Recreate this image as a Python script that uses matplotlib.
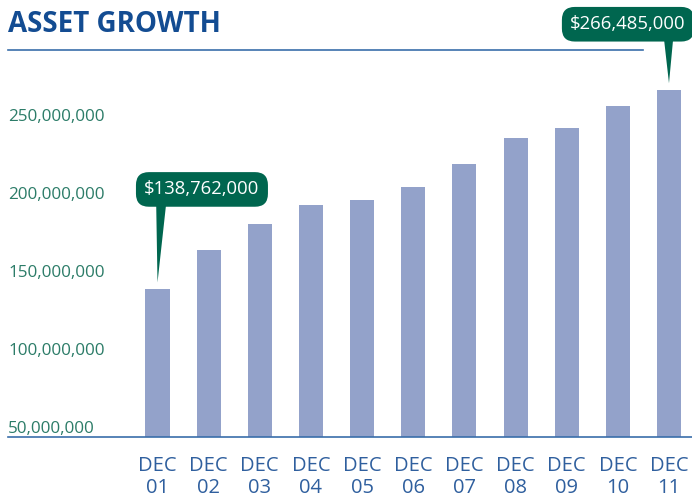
import matplotlib
matplotlib.use("Agg")
import matplotlib.pyplot as plt

# values (millions of dollars)
years = ["01", "02", "03", "04", "05", "06", "07", "08", "09", "10", "11"]
assets = [138.762, 163.6, 180.3, 192.2, 195.6, 204.2, 218.5, 235.6, 241.8, 255.7, 266.485]
ytick_vals = [50, 100, 150, 200, 250]
ytick_text = ["50,000,000", "100,000,000", "150,000,000", "200,000,000", "250,000,000"]
callouts = {0: "$138,762,000", 10: "$266,485,000"}

FONT = ["Open Sans", "DejaVu Sans"]

BLUE = "#134c92"
LINE = "#3a6eaa"
GREEN = "#2c7c68"
BOX = "#00664f"
BAR = "#93a2ca"

W, H = 692, 498
fig = plt.figure(figsize=(W / 100, H / 100), dpi=100)
# axes placed in pixel terms: left 8, right 692, bottom line at y=437, top y=60
ax = fig.add_axes([8 / W, (H - 437) / H, 684 / W, 377 / H])

x = list(range(len(years)))
ax.bar(x, assets, width=0.47, color=BAR, zorder=2)
ax.set_xlim(-2.923, 10.45)
ax.set_ylim(43.7, 285.4)

for s in ["top", "right", "left"]:
    ax.spines[s].set_visible(False)
ax.spines["bottom"].set_color(LINE)
ax.spines["bottom"].set_linewidth(1.2)

ax.set_yticks(ytick_vals)
ax.set_yticklabels(ytick_text, fontsize=12.3, color=GREEN, family=FONT)
ax.tick_params(axis="y", length=0, pad=0)
for lab in ax.get_yticklabels():
    lab.set_horizontalalignment("left")
    lab.set_verticalalignment("center_baseline")

ax.set_xticks(x)
ax.set_xticklabels(["DEC\n" + y for y in years], fontsize=14.5, color="#2f5f9e",
                   family=FONT, linespacing=1.08)
ax.tick_params(axis="x", length=0, pad=14)

# callouts with a wedge pointer
offsets = {0: (32, 67, 0.15), 10: (-29.5, 42.5, 0.85)}
for i, txt in callouts.items():
    dx, dy, rel = offsets[i]
    ax.annotate(txt, xy=(i, assets[i] + 4), xytext=(dx, dy), textcoords="offset points",
                ha="center", va="center", fontsize=13.3, color="white", family=FONT,
                bbox=dict(boxstyle="round,pad=0.45,rounding_size=0.7", fc=BOX, ec="none"),
                arrowprops=dict(arrowstyle="wedge,tail_width=0.6", fc=BOX, ec="none",
                                relpos=(rel, 0.2), patchA=None, shrinkA=0, shrinkB=0),
                zorder=5)

fig.text(8 / W, 1 - 24 / H, "ASSET GROWTH", fontsize=20, fontweight="bold", color=BLUE,
         family=FONT, va="center", ha="left")
fig.add_artist(plt.Line2D([8 / W, 643 / W], [1 - 50 / H, 1 - 50 / H], color=LINE, lw=1.2))

fig.savefig("out.png", dpi=100)
